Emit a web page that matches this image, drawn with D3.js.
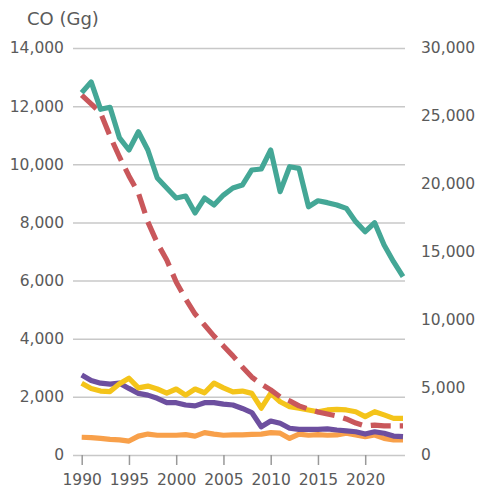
<!DOCTYPE html>
<html><head><meta charset="utf-8">
<script src="https://cdn.jsdelivr.net/npm/d3@7"></script>
<style>
html,body{margin:0;padding:0;background:#fff;}
svg{display:block;font-family:"DejaVu Sans",sans-serif;}
</style></head>
<body><svg id="chart" width="478" height="492"></svg>
<script>
const years = d3.range(1990, 2025);
const totalRight = [26700,27500,25480,25630,23370,22480,23830,22480,20420,19680,18940,19090,17840,18940,18430,19160,19680,19900,21010,21080,22480,19410,21250,21130,18300,18740,18600,18430,18180,17200,16460,17120,15480,14250,13140];
const dashedRed = [12380,12080,11770,10970,10250,9600,9010,8020,7290,6710,5950,5370,4850,4470,4090,3750,3410,3030,2680,2440,2240,2000,1860,1690,1580,1480,1410,1340,1240,1100,1000,1030,1000,1000,1000];
const yellowSeries = [2470,2290,2200,2180,2450,2640,2310,2370,2270,2130,2270,2060,2270,2140,2470,2310,2170,2200,2120,1610,2120,1830,1660,1610,1550,1490,1550,1570,1550,1490,1320,1490,1380,1260,1260];
const purpleSeries = [2750,2560,2470,2440,2470,2290,2120,2060,1950,1800,1800,1720,1690,1800,1800,1750,1720,1600,1460,970,1170,1090,920,880,880,880,900,860,830,800,720,800,750,650,630];
const orangeSeries = [610,600,570,540,520,480,650,720,680,680,680,700,650,770,720,680,690,690,710,720,770,750,570,720,680,700,680,690,750,690,630,690,570,520,520];
const leftTicks = [0,2000,4000,6000,8000,10000,12000,14000];
const rightTicks = [0,5000,10000,15000,20000,25000,30000];
const xTicks = [1990,1995,2000,2005,2010,2015,2020];
const axisTitle = "CO (Gg)";

const FONT = "DejaVu Sans, sans-serif";
const svg = d3.select("#chart");
const x = d3.scaleLinear().domain([1990, 2024]).range([81.7, 403]);
const yL = d3.scaleLinear().domain([0, 14000]).range([455, 48]);
const yR = d3.scaleLinear().domain([0, 30000]).range([455, 48]);
const fmt = d3.format(",");
const textCol = "#5a5a5a";

function styleAxis(g) {
  g.attr("font-family", FONT).attr("font-size", 15.5);
  g.select(".domain").remove();
  g.selectAll(".tick text").attr("fill", textCol);
}

// left axis with gridlines
const gL = svg.append("g").attr("transform", "translate(73,0)")
  .call(d3.axisLeft(yL).tickValues(leftTicks).tickFormat(fmt).tickSize(-332).tickPadding(9));
styleAxis(gL);
gL.selectAll(".tick line").attr("stroke", "#c8c8c8").attr("stroke-width", 1.5);

// right axis
const gR = svg.append("g").attr("transform", "translate(405,0)")
  .call(d3.axisRight(yR).tickValues(rightTicks).tickFormat(fmt).tickSize(0).tickPadding(16));
styleAxis(gR);

// bottom axis
const gB = svg.append("g").attr("transform", "translate(0,455)")
  .call(d3.axisBottom(x).tickValues(xTicks).tickFormat(d3.format("d")).tickSize(10).tickPadding(9));
styleAxis(gB);
gB.selectAll(".tick line").attr("stroke", "#999").attr("stroke-width", 1.5);

// title
svg.append("text").attr("x", 27).attr("y", 25).attr("fill", textCol)
  .attr("font-family", FONT).attr("font-size", 18).text(axisTitle);

function draw(vals, yScale, color, dash) {
  const line = d3.line().x((d, i) => x(years[i])).y(d => yScale(d));
  const p = svg.append("path").datum(vals).attr("d", line)
    .attr("fill", "none").attr("stroke", color).attr("stroke-width", 5.2)
    .attr("stroke-linejoin", "round");
  if (dash) p.attr("stroke-dasharray", dash);
}
draw(orangeSeries, yL, "#f8a04a");
draw(purpleSeries, yL, "#6d4f9f");
draw(yellowSeries, yL, "#f4c41a");
draw(dashedRed, yL, "#c9575b", "20,9");
draw(totalRight, yR, "#44a796");
</script></body></html>
